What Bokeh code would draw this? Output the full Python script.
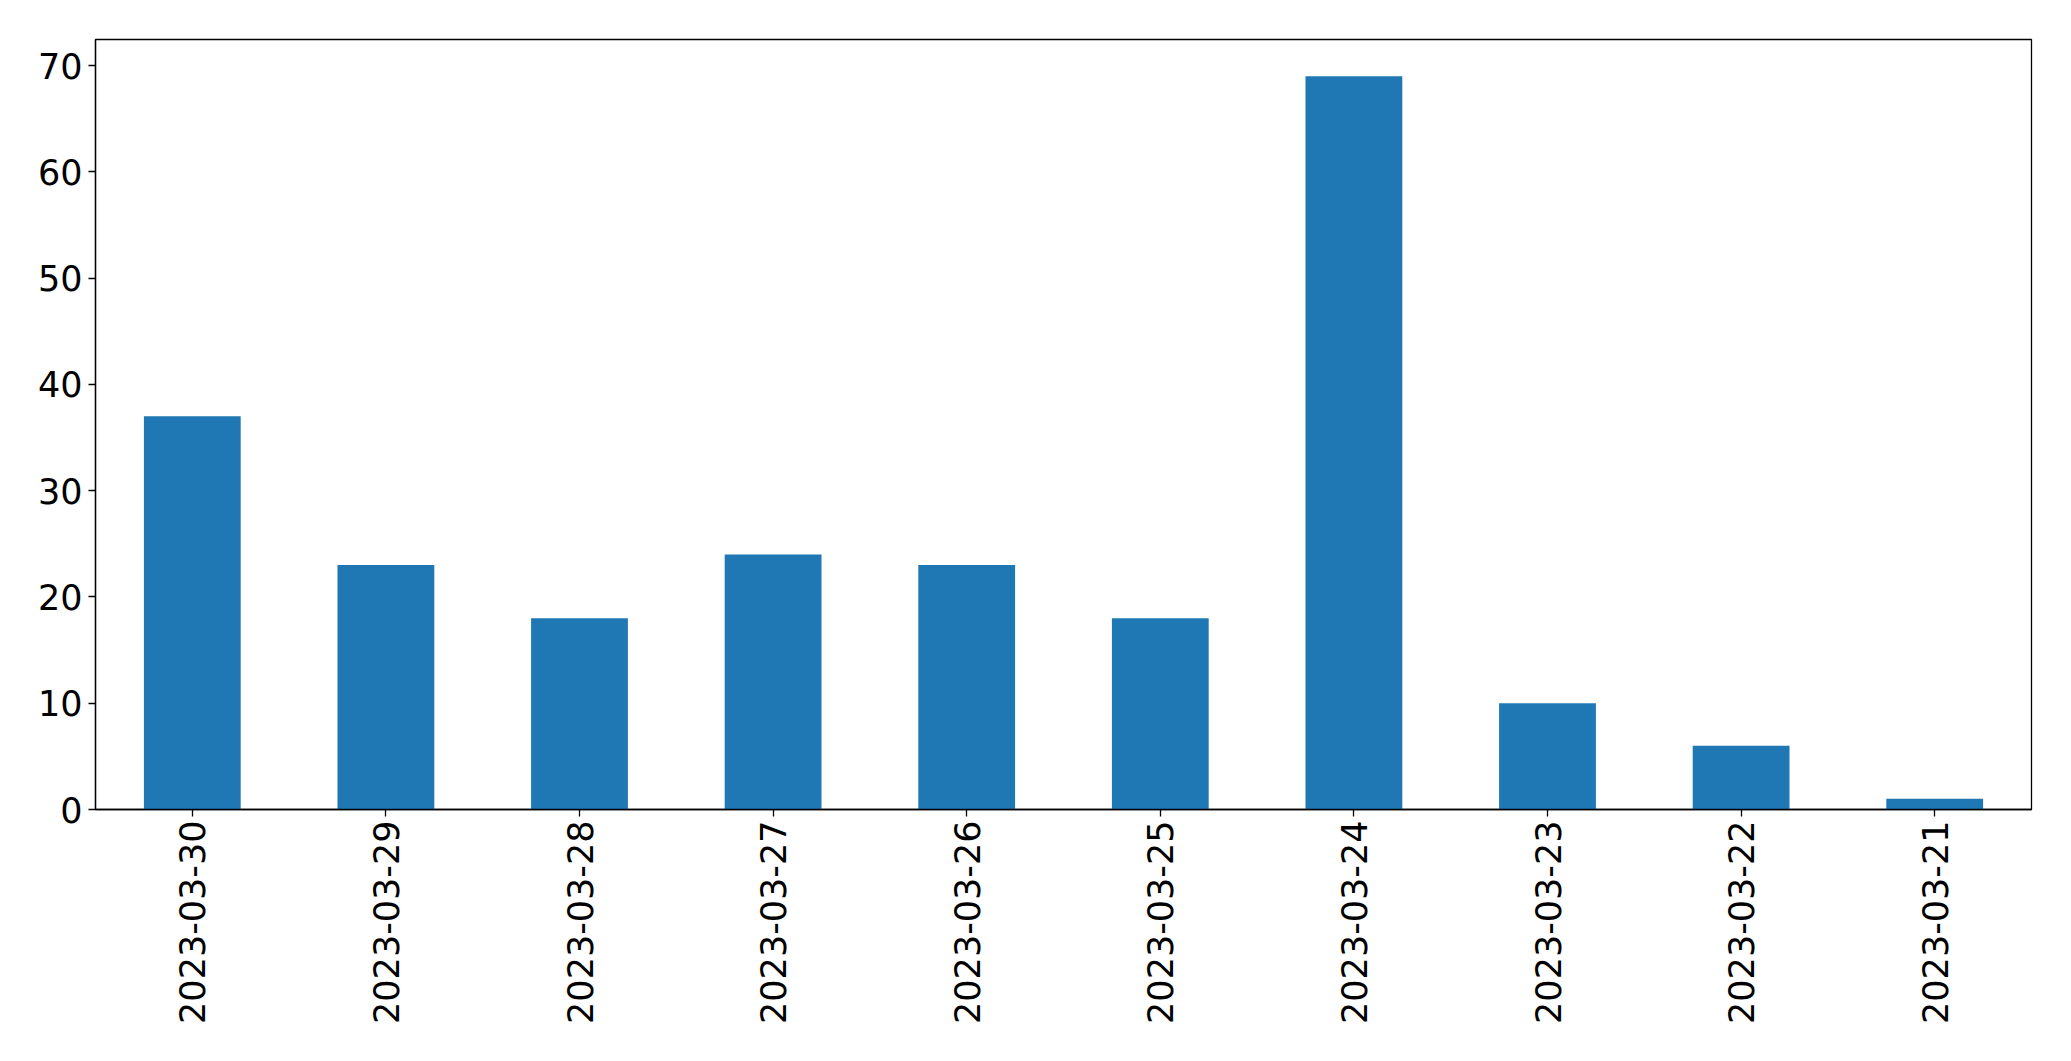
import math
from bokeh.plotting import figure
from bokeh.models import ColumnDataSource, FactorRange, Range1d, FixedTicker
from bokeh.embed import file_html
from bokeh.resources import INLINE

dates = ["2023-03-30", "2023-03-29", "2023-03-28", "2023-03-27", "2023-03-26",
         "2023-03-25", "2023-03-24", "2023-03-23", "2023-03-22", "2023-03-21"]
counts = [37, 23, 18, 24, 23, 18, 69, 10, 6, 1]
y_ticks = [0, 10, 20, 30, 40, 50, 60, 70]

source = ColumnDataSource(data=dict(date=dates, count=counts))

p = figure(
    x_range=FactorRange(factors=dates, range_padding=0),
    y_range=Range1d(0, max(counts) * 1.05),
    frame_width=1936, frame_height=770,
    min_border_left=95, min_border_top=39, min_border_right=20, min_border_bottom=10,
    output_backend="svg", toolbar_location=None,
    background_fill_color="white", border_fill_color="white",
)

p.vbar(x="date", top="count", width=0.5, source=source,
       fill_color="#1f77b4", line_color=None)

p.xgrid.visible = False
p.ygrid.visible = False
p.outline_line_color = "black"
p.outline_line_width = 1.3
p.outline_line_alpha = 1.0

for ax in (p.xaxis, p.yaxis):
    ax.axis_line_color = "black"
    ax.axis_line_width = 1.3
    ax.major_tick_line_color = "black"
    ax.major_tick_line_width = 1.3
    ax.major_tick_out = 7
    ax.major_tick_in = 0
    ax.minor_tick_line_color = None
    ax.major_label_text_font = "DejaVu Sans"
    ax.major_label_text_font_size = "35px"
    ax.major_label_text_color = "black"

p.yaxis.ticker = FixedTicker(ticks=y_ticks)
p.yaxis.major_label_standoff = 6
p.xaxis.major_label_orientation = math.pi / 2
p.xaxis.major_label_standoff = 4
p.xaxis.group_text_font_size = "0px"

open("out.html", "w").write(file_html(p, INLINE))
